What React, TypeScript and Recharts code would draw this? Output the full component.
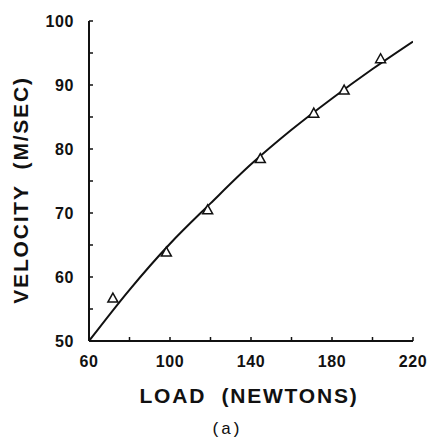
import { ComposedChart, Scatter, XAxis, YAxis } from 'recharts';

// measured triangles
const loadPts = [71.8, 98.2, 118.6, 144.6, 171, 186, 204];
const velPts = [56.7, 63.9, 70.5, 78.5, 85.6, 89.2, 94.1];

// fitted curve
const curveLoad = [60, 80, 100, 120, 140, 160, 180, 200, 220];
const curveVel = [50, 58.0, 65.2, 71.5, 77.6, 83.0, 87.9, 92.5, 96.8];

const xTicks = [60, 80, 100, 120, 140, 160, 180, 200, 220];
const yTicks = [50, 55, 60, 65, 70, 75, 80, 85, 90, 95, 100];

const points = loadPts.map((x, i) => ({ x, y: velPts[i] }));
const curve = curveLoad.map((x, i) => ({ x, y: curveVel[i] }));

const FONT = '"Liberation Sans", Arial, sans-serif';

function Triangle(props: any) {
    const { cx, cy } = props;
    if (cx == null || cy == null) return <g />;
    return (
        <path
            d={`M${cx},${cy - 5} L${cx + 5},${cy + 4} L${cx - 5},${cy + 4} Z`}
            fill="#fff"
            stroke="#111"
            strokeWidth={1.5}
        />
    );
}

function YTick(props: any) {
    const { x, y, payload } = props;
    const major = payload.value % 10 === 0;
    return (
        <g>
            <line x1={x} y1={y} x2={x + 4} y2={y} stroke="#111" strokeWidth={1.5} />
            {major && (
                <text x={x - 15} y={y} dy={6} textAnchor="end" fontFamily={FONT} fontWeight="bold" fontSize={16} letterSpacing={0.6} fill="#111">
                    {payload.value}
                </text>
            )}
        </g>
    );
}

function XTick(props: any) {
    const { x, y, payload } = props;
    const major = (payload.value - 60) % 40 === 0;
    return (
        <g>
            <line x1={x} y1={y} x2={x} y2={y - 4} stroke="#111" strokeWidth={1.5} />
            {major && (
                <text x={x} y={y + 20} dy={6} textAnchor="middle" fontFamily={FONT} fontWeight="bold" fontSize={16} letterSpacing={0.6} fill="#111">
                    {payload.value}
                </text>
            )}
        </g>
    );
}

export default function App() {
    return (
        <div style={{ position: 'fixed', left: 0, top: 0, width: 429, height: 439, background: '#fff' }}>
            <ComposedChart width={429} height={439} margin={{ top: 21, right: 16, bottom: 0, left: 0 }}>
                <XAxis
                    type="number"
                    dataKey="x"
                    domain={[60, 220]}
                    ticks={xTicks}
                    interval={0}
                    tickSize={0}
                    tickMargin={0}
                    tick={<XTick />}
                    axisLine={{ stroke: '#111', strokeWidth: 2 }}
                    height={98}
                    allowDataOverflow
                />
                <YAxis
                    type="number"
                    dataKey="y"
                    domain={[50, 100]}
                    ticks={yTicks}
                    interval={0}
                    tickSize={0}
                    tickMargin={0}
                    tick={<YTick />}
                    axisLine={{ stroke: '#111', strokeWidth: 2 }}
                    width={89}
                    allowDataOverflow
                />
                <Scatter
                    data={curve}
                    line={{ stroke: '#111', strokeWidth: 2 }}
                    lineJointType="monotoneX"
                    shape={() => <g />}
                    isAnimationActive={false}
                />
                <Scatter data={points} shape={<Triangle />} isAnimationActive={false} />
            </ComposedChart>
            <svg width={429} height={439} style={{ position: 'absolute', left: 0, top: 0, pointerEvents: 'none' }}>
                <text x={249} y={396} dy={7} textAnchor="middle" fontFamily={FONT} fontWeight="bold" fontSize={21} letterSpacing={1.8} fill="#111" style={{ whiteSpace: 'pre' }}>
                    {'LOAD  (NEWTONS)'}
                </text>
                <text
                    x={21}
                    y={190}
                    dy={7}
                    textAnchor="middle"
                    transform="rotate(-90 21 190)"
                    fontFamily={FONT}
                    fontWeight="bold"
                    fontSize={21}
                    letterSpacing={1.8}
                    fill="#111"
                    style={{ whiteSpace: 'pre' }}
                >
                    {'VELOCITY  (M/SEC)'}
                </text>
                <text x={226} y={428} dy={6} textAnchor="middle" fontFamily='"Liberation Mono", monospace' fontSize={17} fill="#111">
                    (a)
                </text>
            </svg>
        </div>
    );
}
